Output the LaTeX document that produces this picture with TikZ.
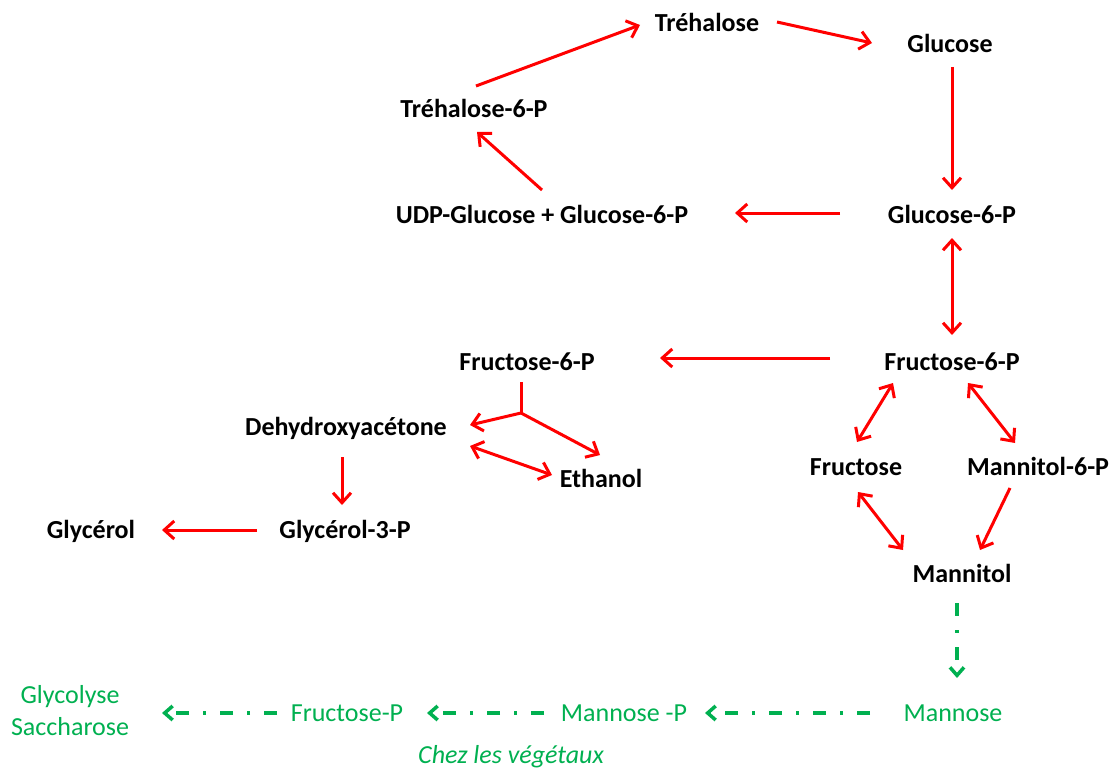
\documentclass[tikz,border=0pt]{standalone}
\usepackage{fontspec}
\setmainfont{Carlito}
\usetikzlibrary{arrows.meta}
\definecolor{vegetal}{RGB}{0,176,80}
\begin{document}
\begin{tikzpicture}[
    x=1pt, y=-1pt,
    met/.style={inner sep=0pt, text height=17pt, text depth=0pt, font=\bfseries\fontsize{26}{31}\selectfont},
    veg/.style={inner sep=0pt, text height=17pt, text depth=0pt, text=vegetal, font=\fontsize{26}{31}\selectfont},
    rxn/.style={-{Straight Barb[length=10pt,width=18pt]}, red, line width=3pt},
    rev/.style={{Straight Barb[length=10pt,width=18pt]}-{Straight Barb[length=10pt,width=18pt]}, red, line width=3pt},
    path/.style={-{Straight Barb[length=8pt,width=14pt]}, vegetal, line width=3.5pt, dash pattern=on 13pt off 14pt on 3pt off 14pt}
  ]
    \useasboundingbox (0,0) rectangle (1115,773);
    \node[met] (tre) at (707,23) {Tréhalose};
    \node[met] (glu) at (950,44) {Glucose};
    \node[met] (t6p) at (474,109) {Tréhalose-6-P};
    \node[met] (udp) at (542,215) {UDP-Glucose + Glucose-6-P};
    \node[met] (g6p) at (952,215) {Glucose-6-P};
    \node[met] (f6p) at (952,362) {Fructose-6-P};
    \node[met] (f6pl) at (527,362) {Fructose-6-P};
    \node[met] (dha) at (346,427) {Dehydroxyacétone};
    \node[met] (eth) at (601,479) {Ethanol};
    \node[met] (glyc) at (91,530) {Glycérol};
    \node[met] (g3p) at (345,530) {Glycérol-3-P};
    \node[met] (fru) at (856,467) {Fructose};
    \node[met] (m6p) at (1038,467) {Mannitol-6-P};
    \node[met] (mtl) at (962,574) {Mannitol};
    \node[veg] (mno) at (953,713) {Mannose};
    \node[veg] (mnp) at (624,713) {Mannose -P};
    \node[veg] (frp) at (347,713) {Fructose-P};
    \node[inner sep=0pt, align=center, text=vegetal, font=\fontsize{26}{32}\selectfont] (gly) at (70,711) {Glycolyse\\Saccharose};
    \node[inner sep=0pt, text=vegetal, font=\itshape\fontsize{26}{31}\selectfont] (veget) at (511,757) {Chez les végétaux};
    \coordinate (br) at (521,413);
    \draw[rxn] ([shift={(2,-23)}]t6p.center) -- ([shift={(-67,2)}]tre.center);
    \draw[rxn] ([shift={(70,-1)}]tre.center) -- ([shift={(-78,-1)}]glu.center);
    \draw[rxn] ([shift={(2,23)}]glu.center) -- ([shift={(0,-25)}]g6p.center);
    \draw[rxn] ([shift={(-112,-2)}]g6p.center) -- ([shift={(193,-2)}]udp.center);
    \draw[rxn] ([shift={(0,-25)}]udp.center) -- ([shift={(3,23)}]t6p.center);
    \draw[rev] ([shift={(0,23)}]g6p.center) -- ([shift={(0,-27)}]f6p.center);
    \draw[rxn] ([shift={(-122,-4)}]f6p.center) -- ([shift={(133,-4)}]f6pl.center);
    \draw[red, line width=3pt] ([shift={(-6,20)}]f6pl.center) -- (br);
    \draw[rxn] (br) -- ([shift={(124,-2)}]dha.center);
    \draw[rxn] (br) -- ([shift={(-1,-24)}]eth.center);
    \draw[rev] ([shift={(124,19)}]dha.center) -- ([shift={(-49,-4)}]eth.center);
    \draw[rxn] ([shift={(-4,30)}]dha.center) -- ([shift={(-3,-25)}]g3p.center);
    \draw[rxn] ([shift={(-88,0)}]g3p.center) -- ([shift={(71,0)}]glyc.center);
    \draw[rev] ([shift={(-59,21)}]f6p.center) -- ([shift={(1,-25)}]fru.center);
    \draw[rev] ([shift={(16,21)}]f6p.center) -- ([shift={(-23,-24)}]m6p.center);
    \draw[rev] ([shift={(2,25)}]fru.center) -- ([shift={(-59,-24)}]mtl.center);
    \draw[rxn] ([shift={(-28,21)}]m6p.center) -- ([shift={(18,-24)}]mtl.center);
    \draw[path] ([shift={(-5,29)}]mtl.center) -- ([shift={(4,-35)}]mno.center);
    \draw[path] ([shift={(-83,0)}]mno.center) -- ([shift={(81,0)}]mnp.center);
    \draw[path] ([shift={(-80,0)}]mnp.center) -- ([shift={(80,0)}]frp.center);
    \draw[path] ([shift={(-70,0)}]frp.center) -- ([shift={(92,2)}]gly.center);
  \end{tikzpicture}
\end{document}
